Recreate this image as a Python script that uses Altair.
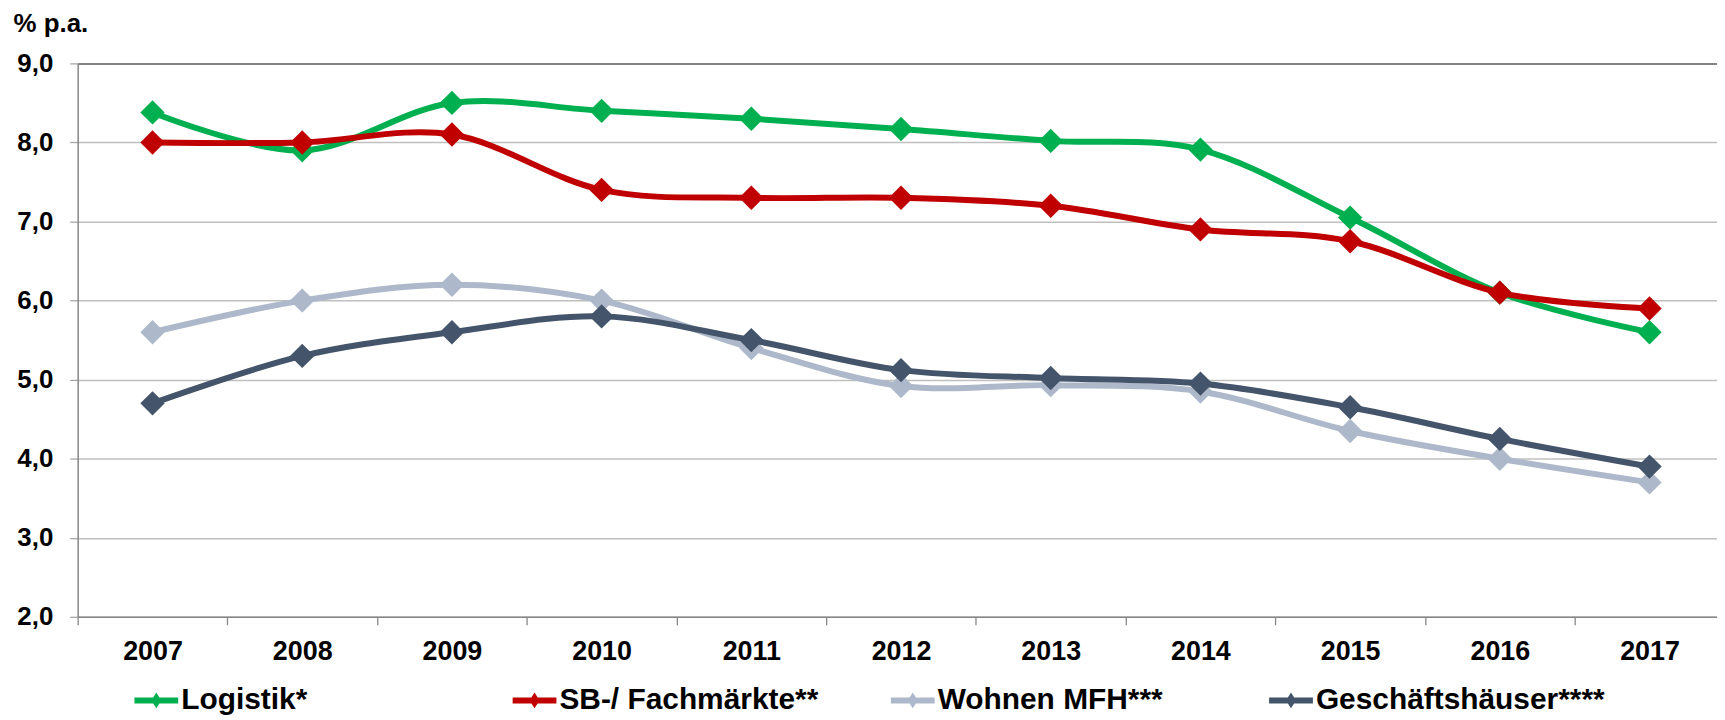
import altair as alt
import pandas as pd

# ---- data ----
years = list(range(2007, 2018))
series_names = ["Logistik*", "SB-/ Fachmärkte**", "Wohnen MFH***", "Geschäftshäuser****"]
series_colors = ["#00B050", "#C00000", "#ADB9CA", "#44546A"]

logistik = [8.38, 7.90, 8.50, 8.40, 8.30, 8.17, 8.02, 7.91, 7.05, 6.10, 5.60]
fachmaerkte = [8.00, 8.00, 8.10, 7.40, 7.30, 7.30, 7.20, 6.90, 6.75, 6.10, 5.90]
wohnen = [5.60, 6.00, 6.20, 6.00, 5.40, 4.92, 4.93, 4.85, 4.35, 4.00, 3.70]
geschaeft = [4.70, 5.30, 5.60, 5.80, 5.50, 5.12, 5.02, 4.95, 4.65, 4.25, 3.90]

y_ticks = [2, 3, 4, 5, 6, 7, 8, 9]
band_edges = [y - 0.5 for y in years]  # category separators 2006.5 .. 2016.5

values = [logistik, fachmaerkte, wohnen, geschaeft]
rows = []
for name, vals in zip(series_names, values):
    for yr, v in zip(years, vals):
        rows.append({"year": yr, "value": v, "series": name})
df = pd.DataFrame(rows)

FONT = "Liberation Sans, Arial, sans-serif"
BAND = 150.4
PLOT_W = 1647
PLOT_H = 556

x_enc = alt.X(
    "year:Q",
    title=None,
    scale=alt.Scale(domain=[2006.5, 2017.5], range=[0, BAND * 11], nice=False, zero=False),
    axis=alt.Axis(
        values=band_edges,
        labelExpr="format(datum.value + 0.5, 'd')",
        labelOffset=BAND / 2,
        labelFont=FONT,
        labelFontSize=27,
        labelFontWeight="bold",
        labelColor="#000000",
        labelBaseline="alphabetic",
        labelPadding=35,
        labelFlush=False,
        labelOverlap=False,
        labelBound=False,
        tickSize=8,
        tickColor="#868686",
        tickWidth=1.3,
        domainColor="#868686",
        domainWidth=1.5,
        grid=False,
    ),
)

y_enc = alt.Y(
    "value:Q",
    scale=alt.Scale(domain=[2, 9], nice=False, zero=False),
    axis=alt.Axis(
        values=y_ticks,
        labelExpr="replace(format(datum.value, '.1f'), '.', ',')",
        labelFont=FONT,
        labelFontSize=26,
        labelFontWeight="bold",
        labelColor="#000000",
        labelPadding=17,
        tickSize=8,
        tickColor="#A6A6A6",
        tickWidth=1.3,
        domainColor="#868686",
        domainWidth=1.5,
        grid=True,
        gridColor=alt.condition("datum.value == 9", alt.value("#595959"), alt.value("#BFBFBF")),
        gridWidth=1.5,
        title="% p.a.",
        titleFont=FONT,
        titleFontSize=26,
        titleFontWeight="bold",
        titleColor="#000000",
        titleAngle=0,
        titleAlign="left",
        titleBaseline="alphabetic",
        titleX=-65,
        titleY=-32,
    ),
)

legend_symbol = "M-1,-0.136H1V0.136H-1Z M0,-0.36L0.23,0L0,0.36L-0.23,0Z"

legend = alt.Legend(
    title=None,
    orient="none",
    legendX=57,
    legendY=618,
    direction="horizontal",
    columns=4,
    gridAlign="all",
    columnPadding=42,
    padding=0,
    symbolType=legend_symbol,
    symbolSize=1936,
    symbolStrokeWidth=0,
    symbolOpacity=1,
    labelFont=FONT,
    labelFontSize=30,
    labelFontWeight="bold",
    labelColor="#000000",
    labelOffset=3,
    labelLimit=500,
)

color_enc = alt.Color(
    "series:N",
    scale=alt.Scale(domain=series_names, range=series_colors),
    legend=legend,
)

base = alt.Chart(df)
layers = []
for name, col in zip(series_names, series_colors):
    sub = base.transform_filter(alt.datum.series == name)
    line = sub.mark_line(color=col, strokeWidth=6, interpolate="cardinal").encode(x=x_enc, y=y_enc)
    pts = sub.mark_point(shape="diamond", filled=True, size=600, opacity=1).encode(
        x=x_enc, y=y_enc, color=color_enc
    )
    layers += [line, pts]

chart = (
    alt.layer(*layers)
    .properties(
        width=PLOT_W,
        height=PLOT_H,
        autosize=alt.AutoSizeParams(type="none"),
        padding={"left": 70, "top": 54, "right": 0, "bottom": 100},
        background="#FFFFFF",
    )
    .configure_view(stroke=None)
)

chart.save("out.html", embed_options={"renderer": "svg", "actions": False})
